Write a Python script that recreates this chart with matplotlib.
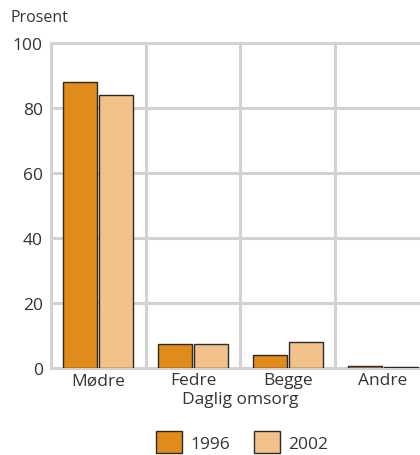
import matplotlib
matplotlib.use("Agg")
import matplotlib.pyplot as plt
import numpy as np
from matplotlib.patches import Patch

categories = ["Mødre", "Fedre", "Begge", "Andre"]
series_names = ["1996", "2002"]
values_1996 = [88, 7.5, 4.1, 0.5]
values_2002 = [84, 7.3, 8.0, 0.2]
yticks = [0, 20, 40, 60, 80, 100]

colors = ["#E08B1A", "#F2C28A"]
text_color = "#333333"
grid_color = "#D2D2D2"

plt.rcParams['font.family'] = ['Open Sans', 'DejaVu Sans']

fig = plt.figure(figsize=(4.2, 4.56), dpi=100)
ax = fig.add_axes([51/420, (456-369)/456, 379/420, 325/456])

x = np.arange(len(categories))
w = 0.36
off = 0.19
ax.bar(x - off, values_1996, width=w, color=colors[0], edgecolor="#2a2a2a", linewidth=1.0, zorder=3)
ax.bar(x + off, values_2002, width=w, color=colors[1], edgecolor="#2a2a2a", linewidth=1.0, zorder=3)

ax.set_xlim(-0.5, len(categories) - 0.5)
ax.set_ylim(0, 100)
ax.set_yticks(yticks)
ax.set_yticklabels([str(v) for v in yticks])
ax.set_xticks(x)
ax.set_xticklabels(categories)

for v in yticks:
    ax.axhline(v, color=grid_color, linewidth=2.2, zorder=1, clip_on=False)
for b in np.arange(-0.5, len(categories) - 0.5, 1.0):
    ax.axvline(b, color=grid_color, linewidth=2.2, zorder=1, clip_on=False)

for s in ax.spines.values():
    s.set_visible(False)
ax.tick_params(axis="both", length=0, colors=text_color, labelsize=12.5, pad=6)
ax.tick_params(axis="x", pad=3)

ax.set_xlabel("Daglig omsorg", fontsize=12.5, color=text_color, labelpad=2)
fig.text(10/420, 1 - 18/456, "Prosent", fontsize=11.5, color=text_color, ha="left", va="center")

handles = [Patch(facecolor=colors[0], edgecolor="#2a2a2a", linewidth=1.0),
           Patch(facecolor=colors[1], edgecolor="#2a2a2a", linewidth=1.0)]
fig.legend(handles, series_names, loc="center", bbox_to_anchor=(242/420, 1 - 443/456),
           ncol=2, frameon=False, fontsize=12.5, handlelength=1.5, handleheight=1.5,
           handletextpad=0.5, columnspacing=1.35, labelcolor=text_color)

fig.savefig("out.png", dpi=100)
